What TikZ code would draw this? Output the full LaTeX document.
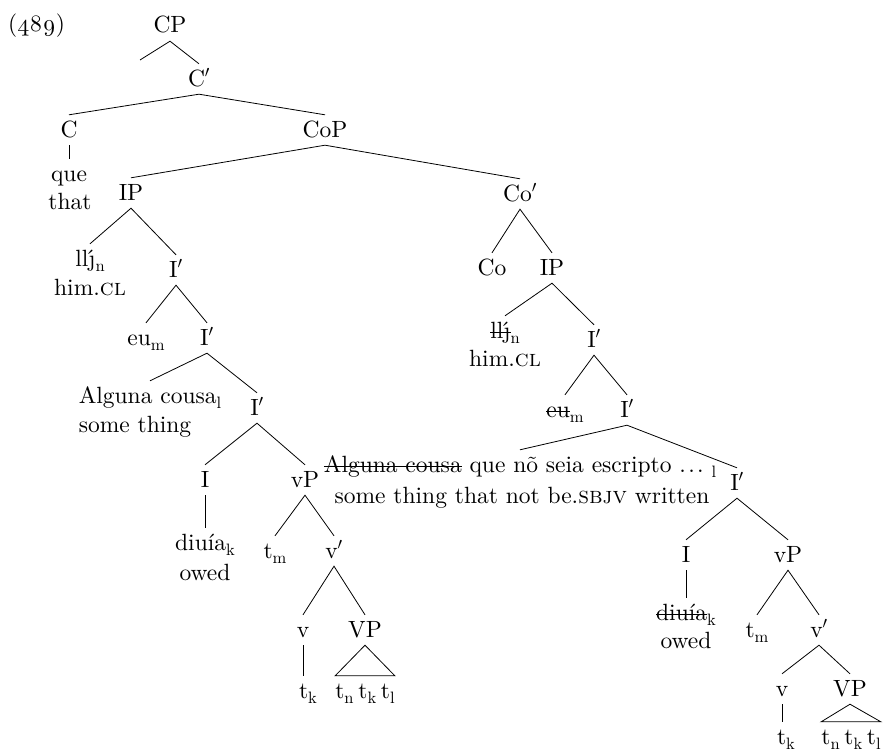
\documentclass[tikz,border=0pt]{standalone}
\usepackage{fix-cm}
\usepackage{fontspec}
\setmainfont{lmroman10-regular.otf}[SmallCapsFont=lmromancaps10-regular.otf]
\usetikzlibrary{calc}
% lowered, smaller index letters
\newcommand{\sbs}[1]{\raisebox{-0.22em}{\fontsize{16.5}{16.5}\selectfont #1}}
\newcommand{\prm}{$'$}
% struck-through (deleted) copy of a word
\newcommand{\strk}[1]{{\setbox0\hbox{#1}\rlap{\rule[0.21em]{\wd0}{0.8pt}}\box0}}
% spaced ellipsis
\newcommand{\dts}{.\kern0.1em.\kern0.1em.}
% closely set list of traces
\newcommand{\trc}{t\sbs{n}\hspace{0.2em}t\sbs{k}\hspace{0.2em}t\sbs{l}}
\tikzset{
  lbl/.style={anchor=base, inner xsep=0pt, inner ysep=6pt, text height=16pt, text depth=2pt,
    font=\fontsize{23.5}{28}\selectfont},
  gl/.style={anchor=base, inner sep=0pt, font=\fontsize{23.5}{28}\selectfont},
  edge/.style={line width=0.8pt}
}
\begin{document}
\begin{tikzpicture}[x=1pt, y=-1pt]
\useasboundingbox (0,0) rectangle (883,752);

\node[gl, anchor=base west] (exnum) at (8,32) {(\oldstylenums{489})};

% upper spine
\node[lbl] (cp) at (170,33) {CP};
\coordinate (spec) at (140,60);
\node[lbl] (cb) at (199,86) {C\prm};
\node[lbl] (c) at (69,137) {C};
\node[lbl] (cop) at (325,137) {CoP};
\node[lbl] (que) at (69,181) {que};
\node[gl] (que-gl) at (70,209) {that};

% first conjunct
\node[lbl] (ip1) at (131,200) {IP};
\node[lbl] (cl1) at (90,266) {ll\'{\j}\sbs{n}};
\node[gl] (cl1-gl) at (90,295) {him.\textsc{cl}};
\node[lbl] (ib1) at (176,277) {I\prm};
\node[lbl] (eu1) at (146,345) {eu\sbs{m}};
\node[lbl] (ib2) at (207,345) {I\prm};
\node[lbl] (alg1) at (150,403) {Alguna cousa\sbs{l}};
\node[gl, anchor=base west] (alg1-gl) at ($(alg1.base west)+(0,29)$) {some thing};
\node[lbl] (ib3) at (257,415) {I\prm};
\node[lbl] (i1) at (205,487) {I};
\node[lbl] (vp1) at (305,487) {vP};
\node[lbl] (diu1) at (205,550) {diuía\sbs{k}};
\node[gl] (diu1-gl) at (205,580) {owed};
\node[lbl] (tm1) at (275,558) {t\sbs{m}};
\node[lbl] (vb1) at (334,558) {v\prm};
\node[lbl] (v1) at (303,637) {v};
\node[lbl] (bigvp1) at (365,637) {VP};
\node[lbl] (tk1) at (308,698) {t\sbs{k}};
\node[lbl] (tr1) at (365,698) {\trc};

% second conjunct
\node[lbl] (cob) at (520,201) {Co\prm};
\node[lbl] (co) at (492,275) {Co};
\node[lbl] (ip2) at (552,275) {IP};
\node[lbl] (cl2) at (505,338) {\strk{ll\'{\j}}\sbs{n}};
\node[gl] (cl2-gl) at (505,366) {him.\textsc{cl}};
\node[lbl] (ib4) at (594,347) {I\prm};
\node[lbl] (eu2) at (565,417) {\strk{eu}\sbs{m}};
\node[lbl] (ib5) at (627,417) {I\prm};
\node[lbl] (alg2) at (520,472) {\strk{Alguna cousa} que nõ seia escripto \dts\ \sbs{l}};
\node[gl] (alg2-gl) at (522,503) {some thing that not be.\textsc{sbjv} written};
\node[lbl] (ib6) at (737,490) {I\prm};
\node[lbl] (i2) at (686,562) {I};
\node[lbl] (vp2) at (788,562) {vP};
\node[lbl] (diu2) at (686,620) {\strk{diuía}\sbs{k}};
\node[gl] (diu2-gl) at (686,648) {owed};
\node[lbl] (tm2) at (757,637) {t\sbs{m}};
\node[lbl] (vb2) at (819,637) {v\prm};
\node[lbl] (v2) at (782,696) {v};
\node[lbl] (bigvp2) at (850,696) {VP};
\node[lbl] (tk2) at (786,744) {t\sbs{k}};
\node[lbl] (tr2) at (851,744) {\trc};

% branches
\draw[edge] (spec) -- (cp.south) -- (cb.north);
\draw[edge] (c.north) -- (cb.south) -- (cop.north);
\draw[edge] (c.south) -- (que.north);
\draw[edge] (ip1.north) -- (cop.south) -- (cob.north);
\draw[edge] (cl1.north) -- (ip1.south) -- (ib1.north);
\draw[edge] (eu1.north) -- (ib1.south) -- (ib2.north);
\draw[edge] (alg1.north) -- (ib2.south) -- (ib3.north);
\draw[edge] (i1.north) -- (ib3.south) -- (vp1.north);
\draw[edge] (i1.south) -- (diu1.north);
\draw[edge] (tm1.north) -- (vp1.south) -- (vb1.north);
\draw[edge] (v1.north) -- (vb1.south) -- (bigvp1.north);
\draw[edge] (v1.south) -- (v1.south |- tk1.north);
\draw[edge] (bigvp1.south) -- (tr1.north west) -- (tr1.north east) -- cycle;

\draw[edge] (co.north) -- (cob.south) -- (ip2.north);
\draw[edge] (cl2.north) -- (ip2.south) -- (ib4.north);
\draw[edge] (eu2.north) -- (ib4.south) -- (ib5.north);
\draw[edge] (alg2.north) -- (ib5.south) -- (ib6.north);
\draw[edge] (i2.north) -- (ib6.south) -- (vp2.north);
\draw[edge] (i2.south) -- (diu2.north);
\draw[edge] (tm2.north) -- (vp2.south) -- (vb2.north);
\draw[edge] (v2.north) -- (vb2.south) -- (bigvp2.north);
\draw[edge] (v2.south) -- (v2.south |- tk2.north);
\draw[edge] (bigvp2.south) -- (tr2.north west) -- (tr2.north east) -- cycle;
\end{tikzpicture}
\end{document}
